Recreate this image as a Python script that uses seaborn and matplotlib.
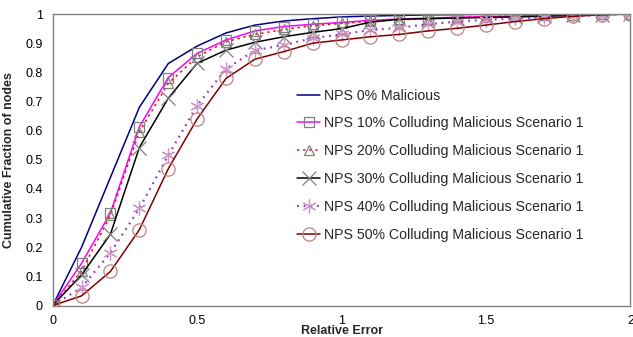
import numpy as np
import pandas as pd
import matplotlib
matplotlib.use("Agg")
import matplotlib.pyplot as plt
import seaborn as sns

# ---- data ----
relative_error = [0.0, 0.1, 0.2, 0.3, 0.4, 0.5, 0.6, 0.7, 0.8, 0.9, 1.0,
                  1.1, 1.2, 1.3, 1.4, 1.5, 1.6, 1.7, 1.8, 1.9, 2.0]

nps_0 = [0.0, 0.20, 0.44, 0.68, 0.83, 0.89, 0.935, 0.962, 0.976, 0.984, 0.99,
         0.993, 0.995, 0.997, 0.998, 0.999, 1.0, 1.0, 1.0, 1.0, 1.0]
nps_10 = [0.0, 0.145, 0.318, 0.613, 0.782, 0.865, 0.911, 0.942, 0.957, 0.965, 0.971,
          0.978, 0.983, 0.986, 0.989, 0.991, 0.993, 0.995, 0.997, 0.999, 1.0]
nps_20 = [0.0, 0.118, 0.31, 0.596, 0.762, 0.853, 0.905, 0.93, 0.947, 0.96, 0.968,
          0.975, 0.98, 0.984, 0.987, 0.99, 0.993, 0.995, 0.997, 0.999, 1.0]
nps_30 = [0.0, 0.105, 0.245, 0.542, 0.711, 0.831, 0.876, 0.903, 0.922, 0.937, 0.95,
          0.972, 0.982, 0.984, 0.986, 0.988, 0.99, 0.992, 0.995, 0.998, 1.0]
nps_40 = [0.0, 0.062, 0.181, 0.333, 0.515, 0.686, 0.812, 0.875, 0.894, 0.917, 0.93,
          0.945, 0.953, 0.965, 0.974, 0.98, 0.985, 0.988, 0.993, 0.997, 1.0]
nps_50 = [0.0, 0.033, 0.117, 0.26, 0.469, 0.64, 0.779, 0.845, 0.871, 0.9, 0.911,
          0.922, 0.93, 0.942, 0.951, 0.962, 0.974, 0.984, 0.992, 0.997, 1.0]

labels = ["NPS 0% Malicious",
          "NPS 10% Colluding Malicious Scenario 1",
          "NPS 20% Colluding Malicious Scenario 1",
          "NPS 30% Colluding Malicious Scenario 1",
          "NPS 40% Colluding Malicious Scenario 1",
          "NPS 50% Colluding Malicious Scenario 1"]
series = [nps_0, nps_10, nps_20, nps_30, nps_40, nps_50]

x_ticks = [0, 0.5, 1, 1.5, 2]
x_tick_labels = ["0", "0.5", "1", "1.5", "2"]
y_ticks = [0, 0.1, 0.2, 0.3, 0.4, 0.5, 0.6, 0.7, 0.8, 0.9, 1.0]
y_tick_labels = ["0", "0.1", "0.2", "0.3", "0.4", "0.5", "0.6", "0.7", "0.8", "0.9", "1"]

# ---- style ----
sns.set_style("white")
plt.rcParams["font.family"] = ["Liberation Sans", "DejaVu Sans"]

styles = [
    dict(color="#000080", lw=1.1, ls="-", marker=None, mec=None, ms=0, mew=0),
    dict(color="#ff00ff", lw=1.1, ls="-", marker="s", mec="#808080", ms=7, mew=0.9),
    dict(color="#ff0000", lw=1.1, ls=(0, (1.5, 2.5)), marker="^", mec="#808080", ms=7.5, mew=0.9),
    dict(color="#000000", lw=1.1, ls="-", marker="x", mec="#808080", ms=9.5, mew=0.9),
    dict(color="#9933cc", lw=1.6, ls=(0, (0.8, 2.2)), marker=(6, 2, 0), mec="#cc99cc", ms=10, mew=0.9),
    dict(color="#800000", lw=1.1, ls="-", marker="o", mec="#c08080", ms=9.5, mew=0.9),
]

fig = plt.figure(figsize=(6.33, 3.37), dpi=100)
ax = fig.add_axes([52.7 / 633, 1 - 305.5 / 337, (630.5 - 52.7) / 633, (305.5 - 14) / 337])

for lab, vals, st in zip(labels, series, styles):
    df = pd.DataFrame({"Relative Error": relative_error, "value": vals})
    kw = dict(color=st["color"], linewidth=st["lw"], linestyle=st["ls"], label=lab)
    if st["marker"] is not None:
        kw.update(marker=st["marker"], markersize=st["ms"], markerfacecolor="none",
                  markeredgecolor=st["mec"], markeredgewidth=st["mew"])
    sns.lineplot(data=df, x="Relative Error", y="value", ax=ax, **kw)

ax.set_xlim(0, 2)
ax.set_ylim(0, 1)
ax.set_xticks(x_ticks)
ax.set_xticklabels(x_tick_labels)
ax.set_xticks(np.arange(0, 2.01, 0.1), minor=True)
ax.set_yticks(y_ticks)
ax.set_yticklabels(y_tick_labels)

for sp in ax.spines.values():
    sp.set_color("#808080")
    sp.set_linewidth(1.0)
    sp.set_visible(True)

ax.tick_params(axis="both", which="both", direction="out", color="#808080",
               labelsize=9, labelcolor="black", width=1.0)
ax.tick_params(axis="x", which="major", length=4, pad=2.5)
ax.tick_params(axis="x", which="minor", length=4)
ax.tick_params(axis="y", which="major", length=4, pad=3)

ax.set_xlabel("Relative Error", fontsize=9, fontweight="bold")
ax.xaxis.set_label_coords(0.5, -0.068)
ax.set_ylabel("Cumulative Fraction of nodes", fontsize=9, fontweight="bold")
ax.yaxis.set_label_coords(-37.7 / 578, 0.5)

handles, labs = ax.get_legend_handles_labels()
leg = ax.legend(handles, labs, frameon=False, loc="upper left",
                bbox_to_anchor=(297 / 633, 1 - 88.5 / 337), bbox_transform=fig.transFigure,
                borderpad=0, borderaxespad=0, handlelength=1.65, handletextpad=0.25,
                labelspacing=0.98, fontsize=10.2, numpoints=1)

fig.savefig("out.png", dpi=100)
